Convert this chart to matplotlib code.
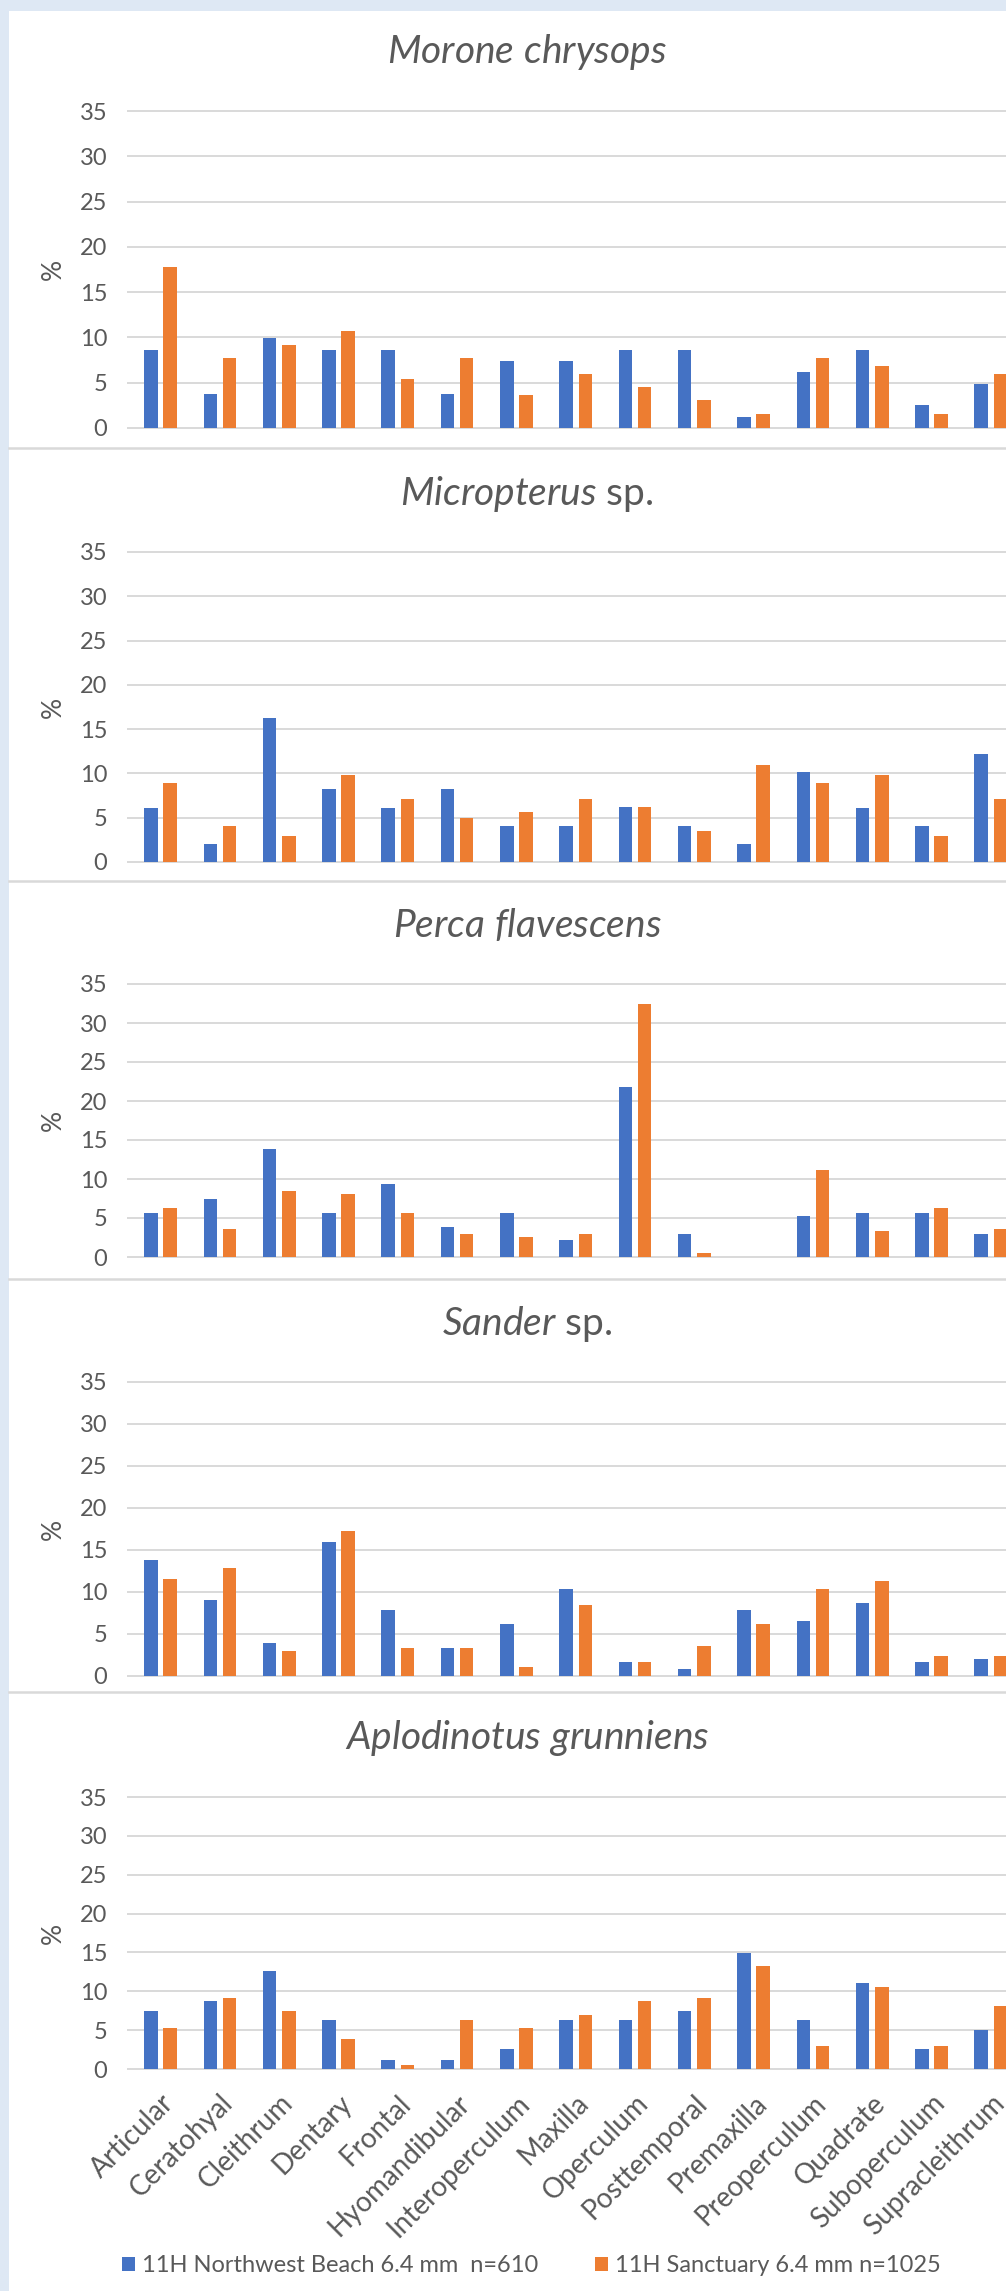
import numpy as np
import matplotlib
matplotlib.use("Agg")
import matplotlib.pyplot as plt
from matplotlib.patches import Rectangle

plt.rcParams['font.family'] = ['Lato', 'DejaVu Sans']
plt.rcParams['mathtext.fontset'] = 'custom'
plt.rcParams['mathtext.it'] = 'Lato:italic'
plt.rcParams['mathtext.rm'] = 'Lato'

# bone categories (x axis)
bones = ['Articular', 'Ceratohyal', 'Cleithrum', 'Dentary', 'Frontal',
         'Hyomandibular', 'Interoperculum', 'Maxilla', 'Operculum',
         'Posttemporal', 'Premaxilla', 'Preoperculum', 'Quadrate',
         'Suboperculum', 'Supracleithrum']

series_names = ['11H Northwest Beach 6.4 mm  n=610', '11H Sanctuary 6.4 mm n=1025']

# % of elements per taxon, Northwest Beach (nw) vs Sanctuary (sa)
morone_nw = [8.6, 3.7, 9.9, 8.6, 8.6, 3.7, 7.4, 7.4, 8.6, 8.6, 1.2, 6.2, 8.6, 2.5, 4.9]
morone_sa = [17.8, 7.7, 9.2, 10.7, 5.4, 7.7, 3.6, 6.0, 4.5, 3.1, 1.6, 7.7, 6.9, 1.6, 6.0]

microp_nw = [6.1, 2.0, 16.3, 8.2, 6.1, 8.2, 4.1, 4.1, 6.2, 4.1, 2.0, 10.2, 6.1, 4.1, 12.2]
microp_sa = [8.9, 4.1, 2.9, 9.8, 7.1, 5.0, 5.6, 7.1, 6.2, 3.5, 11.0, 8.9, 9.8, 2.9, 7.1]

perca_nw = [5.7, 7.4, 13.9, 5.7, 9.4, 3.9, 5.7, 2.2, 21.8, 2.9, 0.0, 5.3, 5.7, 5.7, 2.9]
perca_sa = [6.3, 3.6, 8.4, 8.1, 5.7, 2.9, 2.6, 2.9, 32.4, 0.5, 0.0, 11.1, 3.3, 6.3, 3.6]

sander_nw = [13.8, 9.0, 3.9, 16.0, 7.8, 3.3, 6.2, 10.3, 1.7, 0.8, 7.8, 6.5, 8.7, 1.7, 2.0]
sander_sa = [11.6, 12.9, 3.0, 17.3, 3.3, 3.3, 1.1, 8.4, 1.7, 3.6, 6.2, 10.3, 11.3, 2.4, 2.4]

aplod_nw = [7.4, 8.8, 12.6, 6.3, 1.2, 1.2, 2.6, 6.3, 6.3, 7.4, 14.9, 6.3, 11.1, 2.6, 5.0]
aplod_sa = [5.3, 9.1, 7.4, 3.9, 0.5, 6.3, 5.3, 7.0, 8.8, 9.1, 13.2, 2.9, 10.5, 2.9, 8.1]

titles = [r'$\it{Morone\ chrysops}$', r'$\it{Micropterus}$ sp.',
          r'$\it{Perca\ flavescens}$', r'$\it{Sander}$ sp.',
          r'$\it{Aplodinotus\ grunniens}$']
nw_data = [morone_nw, microp_nw, perca_nw, sander_nw, aplod_nw]
sa_data = [morone_sa, microp_sa, perca_sa, sander_sa, aplod_sa]

BLUE = '#4472C4'
ORANGE = '#ED7D31'
GRAY_TXT = '#595959'
GRID = '#D9D9D9'
BG = '#DEE8F4'

W, H = 1006, 2291
fig = plt.figure(figsize=(W / 100, H / 100), dpi=100)
fig.patch.set_facecolor('white')

def fx(px):
    return px / W

def fy(py):
    return 1 - py / H

# light blue frame on top and left
fig.patches.append(Rectangle((0, fy(11)), 1, 11 / H, transform=fig.transFigure,
                             facecolor=BG, edgecolor='none', zorder=0))
fig.patches.append(Rectangle((0, 0), fx(9), 1, transform=fig.transFigure,
                             facecolor=BG, edgecolor='none', zorder=0))

# panel separators
for sep in [448, 881, 1279, 1692]:
    fig.add_artist(plt.Line2D([fx(9), 1], [fy(sep), fy(sep)], color=GRID, lw=1.8))

# plot area placement (pixels): top = 35 gridline, bottom = 0 gridline
plot_tops = [111, 552, 984, 1382, 1797]
plot_bots = [428, 862, 1257, 1676, 2069]
title_base = [63, 505, 937, 1335, 1749]

left_px = 128
step_px = 59.3
x0, x1 = -0.55, 15.45
right_px = left_px + (x1 - x0) * step_px

x = np.arange(len(bones))
bw = 0.228
off = 0.162

for i in range(5):
    ax = fig.add_axes([fx(left_px), fy(plot_bots[i]), fx(right_px - left_px),
                       (plot_bots[i] - plot_tops[i]) / H])
    ax.bar(x - off, nw_data[i], bw, color=BLUE, label=series_names[0], zorder=3)
    ax.bar(x + off, sa_data[i], bw, color=ORANGE, label=series_names[1], zorder=3)
    ax.set_xlim(x0, x1)
    ax.set_ylim(0, 35)
    ax.set_yticks(np.arange(0, 36, 5))
    ax.yaxis.grid(True, color=GRID, lw=1.4, zorder=0)
    for gl in ax.get_ygridlines():
        gl.set_clip_on(False)
    for s in ax.spines.values():
        s.set_visible(False)
    ax.tick_params(axis='y', length=0, labelsize=17, labelcolor=GRAY_TXT, pad=15)
    ax.set_xticks(x)
    if i == 4:
        ax.set_xticklabels(bones, rotation=45, ha='right', va='top',
                           rotation_mode='anchor', fontsize=20, color=GRAY_TXT)
        ax.tick_params(axis='x', length=0, pad=15)
    else:
        ax.set_xticklabels([])
        ax.tick_params(axis='x', length=0)
    ax.set_ylabel('%', fontsize=19, color=GRAY_TXT)
    ax.yaxis.set_label_coords(fx(66 - left_px) / fx(right_px - left_px), 0.5)
    fig.text(fx(527), fy(title_base[i]), titles[i], fontsize=28, color=GRAY_TXT,
             ha='center', va='baseline')
    last_ax = ax

handles, labels = last_ax.get_legend_handles_labels()
fig.legend(handles, labels, loc='center left', bbox_to_anchor=(fx(122), fy(2266)),
           ncol=2, frameon=False, fontsize=17, labelcolor=GRAY_TXT,
           handlelength=0.55, handleheight=0.55, handletextpad=0.3,
           columnspacing=2.4, borderpad=0, borderaxespad=0)

fig.savefig('out.png', dpi=100)
